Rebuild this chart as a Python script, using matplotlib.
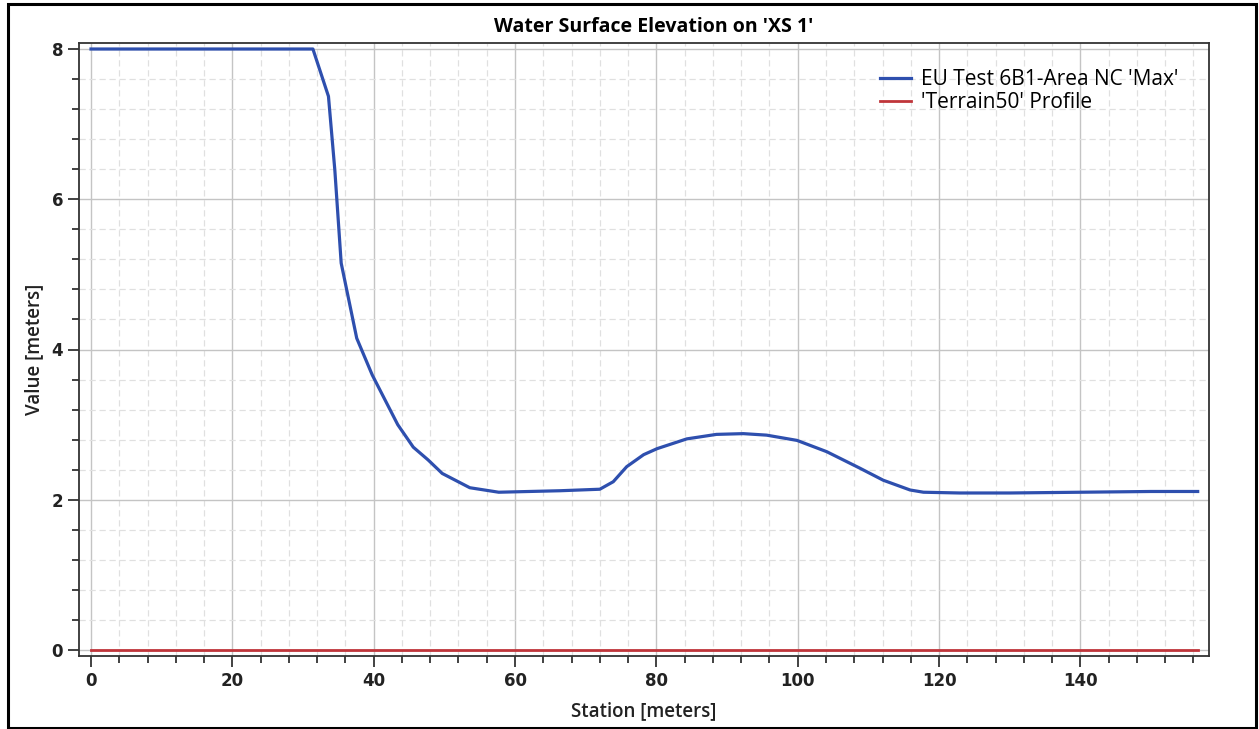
import matplotlib.pyplot as plt
from matplotlib.patches import Rectangle
from matplotlib.ticker import MultipleLocator

# Water surface profile
station = [0, 10, 20, 31.4, 33.6, 34.5, 35.4, 37.6, 39.8, 43.4, 45.6, 47.7,
           49.7, 53.6, 57.7, 62.0, 66.4, 72.0, 73.9, 75.8, 78.2, 80.1, 84.3,
           88.5, 92.3, 95.6, 99.9, 104.1, 108.8, 112.1, 115.9, 117.8, 122.9,
           130.0, 140.0, 150.0, 156.6]
wse = [8.0, 8.0, 8.0, 8.0, 7.37, 6.39, 5.15, 4.15, 3.66, 3.0, 2.70, 2.53,
       2.35, 2.16, 2.10, 2.11, 2.12, 2.14, 2.24, 2.44, 2.60, 2.68, 2.81,
       2.87, 2.88, 2.86, 2.79, 2.64, 2.42, 2.26, 2.13, 2.10, 2.09,
       2.09, 2.10, 2.11, 2.11]

terrain_x = [0, 156.6]
terrain_y = [0, 0]

blue = "#2e4fae"
red = "#c0353a"

fig = plt.figure(figsize=(12.59, 7.29), dpi=100)
ax = fig.add_axes([79 / 1259, 1 - 656 / 729, (1209 - 79) / 1259, (656 - 43) / 729])

ax.plot(station, wse, color=blue, lw=2.3, label="EU Test 6B1-Area NC 'Max'", zorder=3)
ax.plot(terrain_x, terrain_y, color=red, lw=2.0, label="'Terrain50' Profile", zorder=3)

ax.set_xlim(-1.7, 158.2)
ax.set_ylim(-0.08, 8.08)
ax.xaxis.set_major_locator(MultipleLocator(20))
ax.xaxis.set_minor_locator(MultipleLocator(4))
ax.yaxis.set_major_locator(MultipleLocator(2))
ax.yaxis.set_minor_locator(MultipleLocator(0.4))

ax.grid(which="major", color="#c4c4c4", lw=1.0, ls="-")
ax.grid(which="minor", color="#e0e0e0", lw=0.9, ls=(0, (5, 3)))
ax.set_axisbelow(True)

ax.tick_params(which="major", length=8, width=1.3, color="#333333", labelsize=12,
               labelcolor="#222222")
ax.tick_params(which="minor", length=5, width=1.3, color="#333333")
for lab in ax.get_xticklabels() + ax.get_yticklabels():
    lab.set_fontweight("bold")
for s in ax.spines.values():
    s.set_color("#333333")
    s.set_linewidth(1.3)

ax.set_xlabel("Station [meters]", fontsize=13.5, family="Open Sans", fontweight=600,
              color="#222222", labelpad=8)
ax.set_ylabel("Value [meters]", fontsize=13.5, family="Open Sans", fontweight=600,
              color="#222222", labelpad=5)
ax.set_title("Water Surface Elevation on 'XS 1'", fontsize=14, fontweight="bold",
             family="Open Sans", pad=8, x=0.509)

leg = ax.legend(loc="upper left", bbox_to_anchor=(880 / 1259, 1 - 69 / 729),
                bbox_transform=fig.transFigure, frameon=False,
                prop={"family": "Open Sans", "size": 15},
                handlelength=1.5, handletextpad=0.45, labelspacing=0.12,
                borderaxespad=0, borderpad=0)

fig.patches.append(Rectangle((8 / 1259, 1 / 729), 1248 / 1259, 724 / 729,
                             transform=fig.transFigure, fill=False,
                             edgecolor="black", lw=2.2))

fig.savefig("out.png", dpi=100)
